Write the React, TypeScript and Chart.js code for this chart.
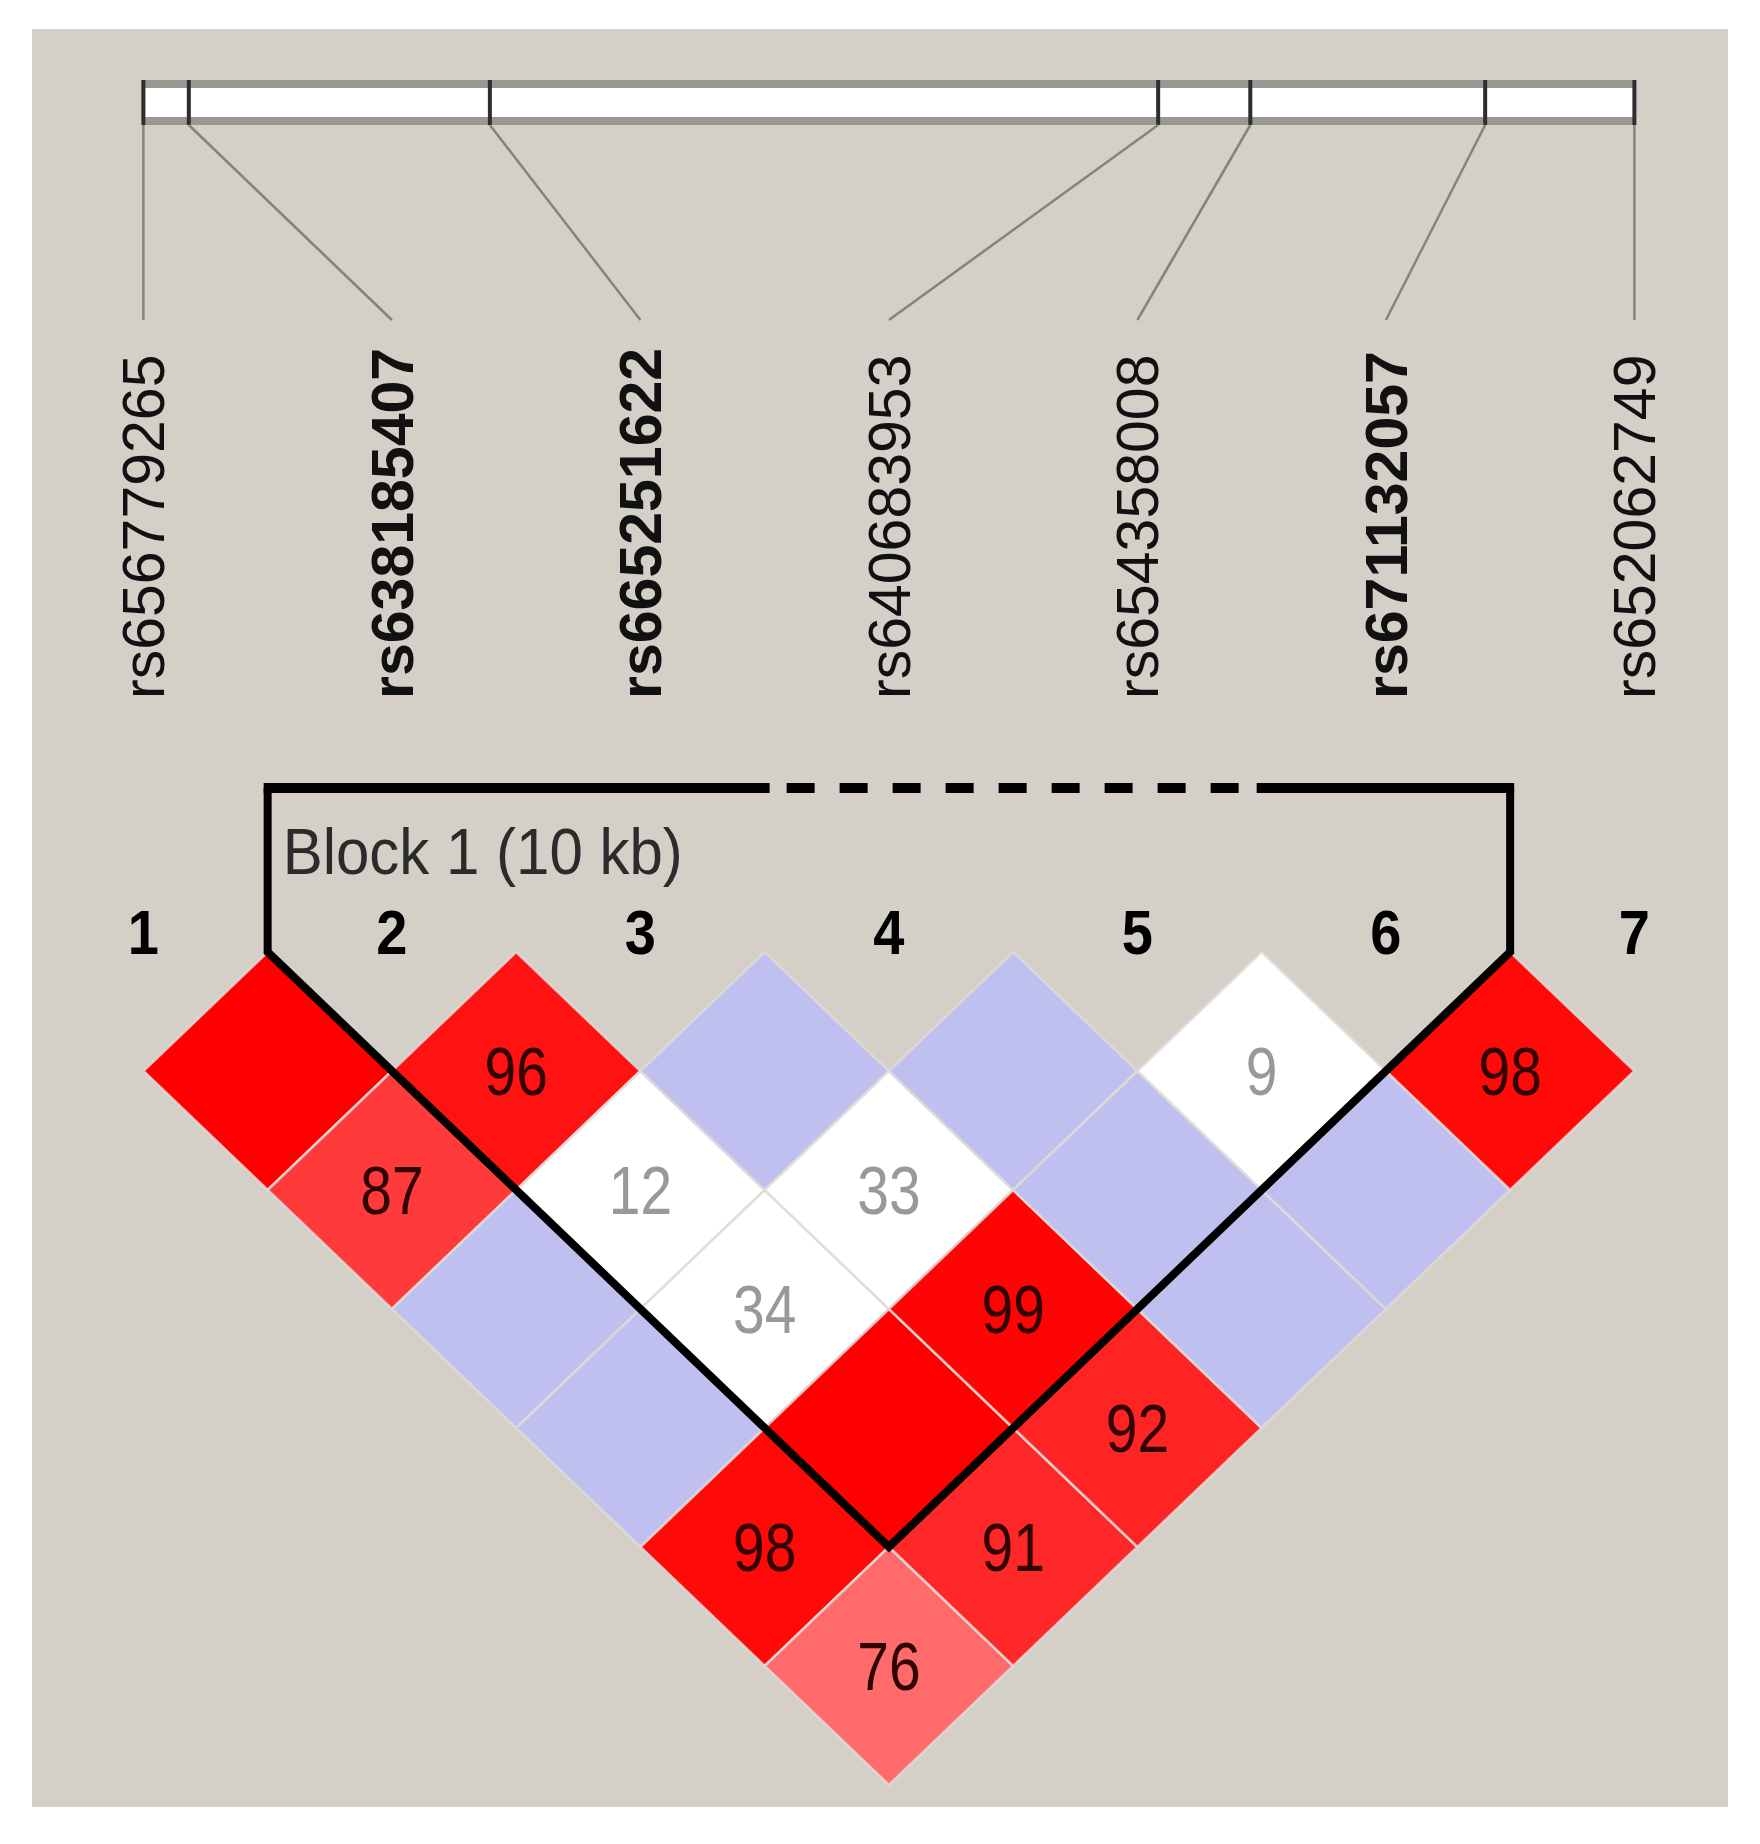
import React, { useEffect, useRef } from "react";
import { Chart, registerables } from "chart.js";

Chart.register(...registerables);

// ---------------- data ----------------
const MARKER_NUMBERS = ["1", "2", "3", "4", "5", "6", "7"];
const SNP_IDS = [
  "rs656779265",
  "rs638185407",
  "rs665251622",
  "rs640683953",
  "rs654358008",
  "rs671132057",
  "rs652062749",
];
const SNP_BOLD = [false, true, true, false, false, true, false];
// physical positions (kb, relative to first SNP)
const SNP_POS_KB = [0, 0.35, 2.67, 7.82, 8.53, 10.34, 11.49];
// D' (x100) upper triangle, row i = pairs (i, i+1..7)
const DPRIME_ROWS = [
  [100, 87, 100, 100, 98, 76],
  [96, 12, 34, 100, 91],
  [100, 33, 99, 92],
  [100, 100, 100],
  [9, 100],
  [98],
];
// LOD >= 2 flags, same layout
const LOD_HIGH_ROWS = [
  [1, 1, 0, 0, 1, 1],
  [1, 0, 0, 1, 1],
  [0, 0, 1, 1],
  [0, 0, 0],
  [0, 0],
  [1],
];
const BLOCK_START = 2;
const BLOCK_END = 6;
const BLOCK_LABEL = "Block 1 (10 kb)";

// ---------------- layout ----------------
const W = 1760;
const H = 1844;
const X0 = 143.4; // pixel of marker 1
const XSTEP = 248.5; // pixels per marker
const YROW1 = 1071; // pixel of first diamond row centre
const YSTEP = 119; // pixels per row
const FONT = '"Liberation Sans", Arial, Helvetica, sans-serif';

function cellColor(d: number, high: number): string {
  if (!high) return d >= 100 ? "#c0c0f0" : "#ffffff";
  const g = Math.round(Math.max(0, Math.min(255, 223 * 2 * (1 - d / 100))));
  return `rgb(255,${g},${g})`;
}

type Cell = { i: number; j: number; d: number; high: number };
const CELLS: Cell[] = [];
DPRIME_ROWS.forEach((row, r) => {
  row.forEach((d, k) => {
    CELLS.push({ i: r + 1, j: r + 2 + k, d, high: LOD_HIGH_ROWS[r][k] });
  });
});

function stretchedText(
  ctx: CanvasRenderingContext2D,
  text: string,
  x: number,
  y: number,
  sy: number
) {
  ctx.save();
  ctx.translate(x, y);
  ctx.scale(1, sy);
  ctx.fillText(text, 0, 0);
  ctx.restore();
}

const ldPlugin = {
  id: "ldPlot",
  beforeDraw(chart: any) {
    const ctx = chart.ctx as CanvasRenderingContext2D;
    ctx.save();
    ctx.fillStyle = "#ffffff";
    ctx.fillRect(0, 0, W, H);
    ctx.fillStyle = "#d4d0c8";
    ctx.fillRect(32, 29, 1696, 1778);
    ctx.restore();
  },
  afterDatasetsDraw(chart: any) {
    const ctx = chart.ctx as CanvasRenderingContext2D;
    const xs = chart.scales.x;
    const ys = chart.scales.y;
    const X = (v: number) => xs.getPixelForValue(v);
    const Y = (v: number) => ys.getPixelForValue(v);
    const n = SNP_IDS.length;
    ctx.save();

    // ---- gene bar ----
    const barL = X(1);
    const barR = X(n);
    const posMax = SNP_POS_KB[n - 1];
    const barX = (p: number) => barL + (p / posMax) * (barR - barL);
    const barTop = 80;
    const barBot = 125;
    ctx.fillStyle = "#ffffff";
    ctx.fillRect(barL, barTop, barR - barL, barBot - barTop);
    ctx.strokeStyle = "#9b9893";
    ctx.lineWidth = 8;
    ctx.beginPath();
    ctx.moveTo(barL, barTop + 4);
    ctx.lineTo(barR, barTop + 4);
    ctx.moveTo(barL, barBot - 4);
    ctx.lineTo(barR, barBot - 4);
    ctx.stroke();
    ctx.strokeStyle = "#2e2e2e";
    ctx.lineWidth = 4;
    ctx.beginPath();
    SNP_POS_KB.forEach((p) => {
      const bx = barX(p);
      ctx.moveTo(bx, barTop);
      ctx.lineTo(bx, barBot);
    });
    ctx.stroke();

    // ---- connectors ----
    ctx.strokeStyle = "#858380";
    ctx.lineWidth = 2.5;
    ctx.beginPath();
    SNP_POS_KB.forEach((p, k) => {
      ctx.moveTo(barX(p), barBot);
      ctx.lineTo(X(k + 1), 320);
    });
    ctx.stroke();

    // ---- SNP labels (rotated) ----
    ctx.fillStyle = "#111111";
    ctx.textAlign = "left";
    ctx.textBaseline = "alphabetic";
    SNP_IDS.forEach((id, k) => {
      ctx.save();
      ctx.font = `${SNP_BOLD[k] ? "bold " : ""}59px ${FONT}`;
      ctx.translate(X(k + 1) + 21, 699);
      ctx.rotate(-Math.PI / 2);
      ctx.fillText(id, 0, 0);
      ctx.restore();
    });

    // ---- marker numbers ----
    ctx.font = `bold 56px ${FONT}`;
    ctx.textAlign = "center";
    ctx.fillStyle = "#000000";
    MARKER_NUMBERS.forEach((m, k) => {
      stretchedText(ctx, m, X(k + 1), 954, 1.12);
    });

    // ---- diamonds ----
    CELLS.forEach((c) => {
      const cx = (c.i + c.j) / 2;
      const cd = c.j - c.i;
      ctx.beginPath();
      ctx.moveTo(X(cx), Y(cd - 1));
      ctx.lineTo(X(cx + 0.5), Y(cd));
      ctx.lineTo(X(cx), Y(cd + 1));
      ctx.lineTo(X(cx - 0.5), Y(cd));
      ctx.closePath();
      ctx.fillStyle = cellColor(c.d, c.high);
      ctx.fill();
      ctx.strokeStyle = "rgba(222,219,215,0.85)";
      ctx.lineWidth = 2.5;
      ctx.stroke();
    });
    ctx.font = `57px ${FONT}`;
    ctx.textAlign = "center";
    CELLS.forEach((c) => {
      if (c.d >= 100) return;
      const cx = (c.i + c.j) / 2;
      const cd = c.j - c.i;
      ctx.fillStyle = c.high ? "#300404" : "#999999";
      stretchedText(ctx, String(c.d), X(cx), Y(cd) + 24, 1.2);
    });

    // ---- block outline ----
    const xL = X(BLOCK_START - 0.5);
    const xR = X(BLOCK_END + 0.5);
    const yTop = 788;
    const y0 = Y(0);
    const apexX = X((BLOCK_START + BLOCK_END) / 2);
    const apexY = Y(BLOCK_END - BLOCK_START + 1);
    ctx.strokeStyle = "#000000";
    ctx.lineJoin = "miter";
    ctx.lineWidth = 8;
    ctx.beginPath();
    ctx.moveTo(xL, yTop);
    ctx.lineTo(xL, y0);
    ctx.lineTo(apexX, apexY);
    ctx.lineTo(xR, y0);
    ctx.lineTo(xR, yTop);
    ctx.stroke();
    ctx.lineWidth = 10;
    ctx.lineCap = "butt";
    const solid1End = X(3.52);
    const solid2Start = X(5.48);
    ctx.beginPath();
    ctx.moveTo(xL - 4, yTop);
    ctx.lineTo(solid1End, yTop);
    ctx.moveTo(solid2Start, yTop);
    ctx.lineTo(xR + 4, yTop);
    ctx.stroke();
    ctx.setLineDash([28, 25]);
    ctx.beginPath();
    ctx.moveTo(solid1End + 17, yTop);
    ctx.lineTo(solid2Start - 18, yTop);
    ctx.stroke();
    ctx.setLineDash([]);

    // ---- block label ----
    ctx.font = `60px ${FONT}`;
    ctx.textAlign = "left";
    ctx.fillStyle = "#2b2b2b";
    stretchedText(ctx, BLOCK_LABEL, xL + 15, 874, 1.08);

    ctx.restore();
  },
};

export default function App() {
  const ref = useRef<HTMLCanvasElement | null>(null);
  useEffect(() => {
    if (!ref.current) return;
    const xMin = 1 - X0 / XSTEP;
    const xMax = 1 + (W - X0) / XSTEP;
    const yMin = 1 - YROW1 / YSTEP;
    const yMax = 1 + (H - YROW1) / YSTEP;
    const chart = new Chart(ref.current, {
      type: "scatter",
      data: {
        datasets: [
          {
            data: CELLS.map((c) => ({ x: (c.i + c.j) / 2, y: c.j - c.i })),
            pointRadius: 0,
            showLine: false,
          },
        ],
      },
      options: {
        responsive: false,
        maintainAspectRatio: false,
        animation: false,
        devicePixelRatio: 1,
        layout: { padding: 0 },
        events: [],
        plugins: {
          legend: { display: false },
          tooltip: { enabled: false },
          title: { display: false },
        },
        scales: {
          x: { type: "linear", display: false, min: xMin, max: xMax },
          y: { type: "linear", display: false, min: yMin, max: yMax, reverse: true },
        },
      },
      plugins: [ldPlugin],
    });
    return () => chart.destroy();
  }, []);
  return (
    <div style={{ position: "absolute", left: 0, top: 0, width: W, height: H }}>
      <canvas ref={ref} width={W} height={H} style={{ width: W, height: H, display: "block" }} />
    </div>
  );
}
